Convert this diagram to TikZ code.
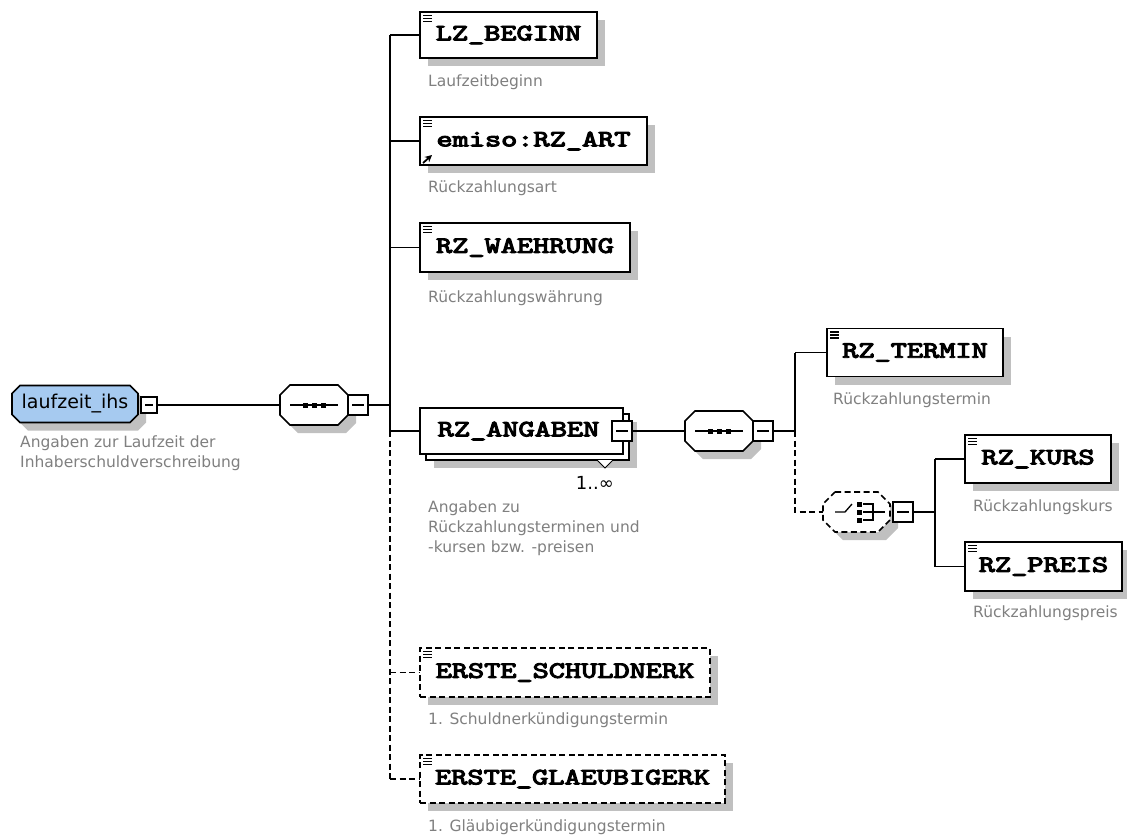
\documentclass[tikz,border=0pt]{standalone}
\usepackage{fontspec}
\usepackage{graphicx}
\usetikzlibrary{arrows.meta}
\newfontfamily\descfont{DejaVu Sans}
\newfontfamily\elfont[FakeBold=4]{lmmono10-regular.otf}
\definecolor{desccol}{RGB}{128,128,128}
\definecolor{shadcol}{RGB}{192,192,192}
\definecolor{rootblue}{RGB}{166,202,240}
\newcommand\enamefont{\fontsize{23.5}{23.5}\selectfont\elfont}
\newcommand\ename[1]{\scalebox{1.31}[1]{#1}}
\newcommand\elicon[1]{%
  \foreach \dy in {3.5,6.5,9.5}{\draw[line width=1.1pt] ([shift={(3,\dy)}]#1.north west) -- ++(9,0);}}
% octagon path: cx, cy, half width, half height, chamfer
\newcommand\octpath[5]{(#1-#3+#5,#2-#4) -- (#1+#3-#5,#2-#4) -- (#1+#3,#2-#4+#5) -- (#1+#3,#2+#4-#5) -- (#1+#3-#5,#2+#4) -- (#1-#3+#5,#2+#4) -- (#1-#3,#2+#4-#5) -- (#1-#3,#2-#4+#5) -- cycle}
\tikzset{
  ln/.style={line width=1.6pt},
  dsh/.style={line width=1.6pt, dash pattern=on 6pt off 3.5pt},
  elem/.style={draw, line width=1.6pt, fill=white, rectangle, inner sep=0pt, outer sep=0pt, font=\enamefont},
  descr/.style={anchor=west, inner sep=0pt, text=desccol, font=\descfont\fontsize{15.5}{20}\selectfont, align=left},
  minus/.style={draw, line width=1.3pt, fill=white, rectangle, minimum size=20pt, inner sep=0pt, outer sep=0pt,
     path picture={\draw[line width=1.3pt] ([xshift=4pt]path picture bounding box.west) -- ([xshift=-4pt]path picture bounding box.east);}},
  anchorbox/.style={rectangle, inner sep=0pt, outer sep=0pt},
}
\begin{document}
\begin{tikzpicture}[x=1pt,y=-1pt]
\useasboundingbox (0,0) rectangle (1127,839);
\fill[white] (0,0) rectangle (1127,839);

% ---------- shadows of boxes
\foreach \cx/\cy/\w/\h in {508.5/35/177/46, 533.5/141/227/48, 525/247.5/210/49, 527.5/437/203/46,
   565/672.5/290/49, 572.5/779/305/48, 915/352.5/176/48, 1038/459/146/48, 1043.5/566.5/157/49}{
  \fill[shadcol] (\cx-\w/2+8,\cy-\h/2+8) rectangle (\cx+\w/2+8,\cy+\h/2+8);
}
\fill[shadcol] \octpath{83}{412}{63}{18.5}{8};
\fill[shadcol] \octpath{322}{413}{34}{20}{10};
\fill[shadcol] \octpath{727}{439}{34}{20}{10};
\fill[shadcol] \octpath{864.5}{520}{33.5}{20}{12};

% ---------- root
\filldraw[ln, fill=rootblue] \octpath{75}{404}{63}{18.5}{8};
\node[anchorbox, minimum width=126pt, minimum height=37pt, font=\descfont\fontsize{19}{19}\selectfont] (root) at (75,404) {laufzeit\_ihs};
\node[minus, minimum size=16pt] (rootm) at (149,405) {};
\node[descr] (rootd) at (20,453) {Angaben zur Laufzeit der\\Inhaberschuldverschreibung};

% ---------- sequence 1
\filldraw[ln, fill=white] \octpath{314}{405}{34}{20}{10};
\node[anchorbox, minimum width=68pt, minimum height=40pt] (s1) at (314,405) {};
\node[minus] (s1m) at (358,405) {};

% trunk coordinates
\coordinate (tA) at (390,35);
\coordinate (tB) at (390,405);
\coordinate (tC) at (390,431);
\coordinate (tD) at (390,672.5);
\coordinate (tE) at (390,779);

% ---------- elements of sequence 1
\node[elem, minimum width=177pt, minimum height=46pt] (lz) at (508.5,35) {\ename{LZ\_BEGINN}};
\node[descr] (lzd) at (428,82) {Laufzeitbeginn};
\node[elem, minimum width=227pt, minimum height=48pt] (art) at (533.5,141) {\ename{emiso:RZ\_ART}};
\node[descr] (artd) at (428,188) {Rückzahlungsart};
\node[elem, minimum width=210pt, minimum height=49pt] (wae) at (525,247.5) {\ename{RZ\_WAEHRUNG}};
\node[descr] (waed) at (428,298) {Rückzahlungswährung};

\node[elem, minimum width=203pt, minimum height=46pt] (angB) at (527.5,437) {};
\node[elem, minimum width=203pt, minimum height=46pt] (ang) at (521.5,431) {\ename{RZ\_ANGABEN}\hspace*{6pt}};
\node[minus] (angm) at (622,431) {};
\draw[line width=1pt, fill=white] (597,460) -- (605,468) -- (613,460);
\node[anchor=east, inner sep=0pt, font=\descfont\fontsize{18}{18}\selectfont] (angmul) at (614,483) {1..∞};
\node[descr] (angd) at (428,528) {Angaben zu\\Rückzahlungsterminen und\\-kursen bzw. -preisen};

\node[elem, dsh, minimum width=290pt, minimum height=49pt] (sch) at (565,672.5) {\ename{ERSTE\_SCHULDNERK}};
\node[descr] (schd) at (428,720) {1. Schuldnerkündigungstermin};
\node[elem, dsh, minimum width=305pt, minimum height=48pt] (gla) at (572.5,779) {\ename{ERSTE\_GLAEUBIGERK}};
\node[descr] (glad) at (428,827) {1. Gläubigerkündigungstermin};

% ---------- sequence 2
\filldraw[ln, fill=white] \octpath{719}{431}{34}{20}{10};
\node[anchorbox, minimum width=68pt, minimum height=40pt] (s2) at (719,431) {};
\node[minus] (s2m) at (763,431) {};
\coordinate (vA) at (795,352.5);
\coordinate (vB) at (795,431);
\coordinate (vC) at (795,512);
\node[elem, minimum width=176pt, minimum height=48pt] (ter) at (915,352.5) {\ename{RZ\_TERMIN}};
\node[descr] (terd) at (833,400) {Rückzahlungstermin};

% ---------- choice
\filldraw[dsh, fill=white] \octpath{856.5}{512}{33.5}{20}{12};
\node[anchorbox, minimum width=67pt, minimum height=40pt] (ch) at (856.5,512) {};
\node[minus] (chm) at (903,512) {};
\coordinate (wA) at (935,459);
\coordinate (wB) at (935,512);
\coordinate (wC) at (935,566.5);
\node[elem, minimum width=146pt, minimum height=48pt] (kur) at (1038,459) {\ename{RZ\_KURS}};
\node[descr] (kurd) at (973,507) {Rückzahlungskurs};
\node[elem, minimum width=157pt, minimum height=49pt] (pre) at (1043.5,566.5) {\ename{RZ\_PREIS}};
\node[descr] (pred) at (973,613) {Rückzahlungspreis};

% ---------- connectors
\draw[ln] (rootm.east) -- (s1.west);
\draw[ln] (s1m.east) -- (tB);
\draw[ln] (tA) -- (tC);
\draw[dsh] (tC) -- (tE);
\draw[ln] (tA) -- (lz.west);
\draw[ln] (tA |- art.west) -- (art.west);
\draw[ln] (tA |- wae.west) -- (wae.west);
\draw[ln] (tC) -- (ang.west);
\draw[dsh] (tD) -- (sch.west);
\draw[dsh] (tE) -- (gla.west);
\draw[ln] (angm.east) -- (s2.west);
\draw[ln] (s2m.east) -- (vB);
\draw[ln] (vA) -- (vB);
\draw[dsh] (vB) -- (vC) -- (ch.west);
\draw[ln] (vA) -- (ter.west);
\draw[ln] (chm.east) -- (wB);
\draw[ln] (wA) -- (wC);
\draw[ln] (wA) -- (kur.west);
\draw[ln] (wC) -- (pre.west);

% ---------- compositor symbols
\foreach \s in {s1,s2}{
  \draw[line width=1.3pt] ([xshift=-24pt]\s.center) -- ([xshift=24pt]\s.center);
  \foreach \dx in {-9,0,9}{\fill ([shift={(\dx-2.5,-2.5)}]\s.center) rectangle ++(5,5);}
}
\draw[line width=1.3pt] ([xshift=-21.5pt]ch.center) -- ([xshift=-11.5pt]ch.center) -- ([shift={(-4.5,-8)}]ch.center);
\foreach \dy in {-8,0,8}{\fill ([shift={(0.5,\dy-2.5)}]ch.center) rectangle ++(5,5);}
\draw[line width=1.3pt] ([shift={(6.5,-8)}]ch.center) -- ([shift={(16.5,-8)}]ch.center) -- ([shift={(16.5,8)}]ch.center) -- ([shift={(6.5,8)}]ch.center);
\draw[line width=1.3pt] ([shift={(6.5,0)}]ch.center) -- ([shift={(28.5,0)}]ch.center);

% ---------- icons
\foreach \e in {lz,art,wae,ter,kur,pre,sch,gla}{\elicon{\e}}
\draw[line width=1.8pt, -{Stealth[length=7pt,width=7pt]}] ([shift={(3,-2)}]art.south west) -- ([shift={(12,-10)}]art.south west);
\end{tikzpicture}
\end{document}
